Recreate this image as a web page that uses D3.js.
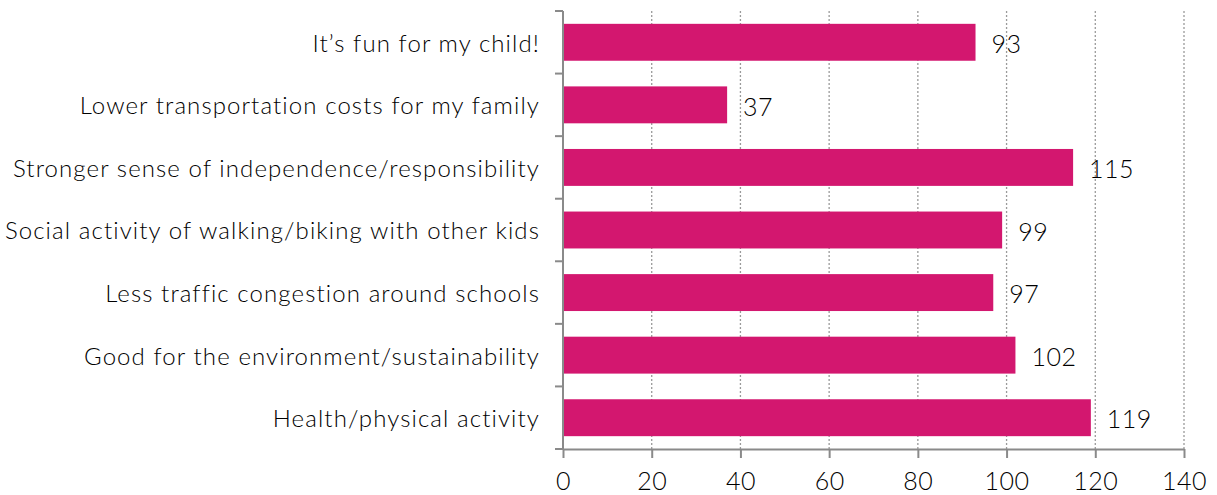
<!DOCTYPE html>
<html><head><meta charset="utf-8">
<script src="https://cdn.jsdelivr.net/npm/d3@7"></script>
<style>body{margin:0;background:#fff}svg{display:block}</style>
</head><body>
<svg id="c" width="1217" height="495"></svg>
<script>
const categories = [
  "It\u2019s fun for my child!",
  "Lower transportation costs for my family",
  "Stronger sense of independence/responsibility",
  "Social activity of walking/biking with other kids",
  "Less traffic congestion around schools",
  "Good for the environment/sustainability",
  "Health/physical activity"
];
const values = [93, 37, 115, 99, 97, 102, 119];
const xTicks = [0, 20, 40, 60, 80, 100, 120, 140];

const svg = d3.select("#c");
const mLeft = 563, mRight = 1184, mTop = 11, mBottom = 449;
const font = "Lato, 'DejaVu Sans', sans-serif";
const x = d3.scaleLinear().domain([0, 140]).range([mLeft, mRight]);
const y = d3.scaleBand().domain(categories).range([mTop, mBottom]).paddingInner(0.41).paddingOuter(0.205);
const yEdges = d3.scaleLinear().domain([0, categories.length]).range([mTop, mBottom]);

// gridlines
svg.append("g").selectAll("line").data(xTicks.filter(d => d > 0)).join("line")
  .attr("x1", d => x(d)).attr("x2", d => x(d)).attr("y1", mTop).attr("y2", mBottom)
  .attr("stroke", "#9a9a9a").attr("stroke-width", 1.3).attr("stroke-dasharray", "2,2");

// bars
svg.append("g").selectAll("rect").data(values).join("rect")
  .attr("x", x(0)).attr("y", (d, i) => y(categories[i]))
  .attr("width", d => x(d) - x(0)).attr("height", y.bandwidth())
  .attr("fill", "#D3176F");

// value labels
svg.append("g").selectAll("text").data(values).join("text")
  .attr("x", d => x(d) + 16).attr("y", (d, i) => y(categories[i]) + y.bandwidth() / 2 + 2)
  .attr("dy", "0.35em").attr("font-family", font).attr("font-size", 25)
  .attr("font-weight", 300).attr("letter-spacing", 0.5).attr("fill", "#000")
  .text(d => d);

// x axis
const xa = svg.append("g").attr("transform", `translate(0,${mBottom})`)
  .call(d3.axisBottom(x).tickValues(xTicks).tickSize(9).tickPadding(14).tickSizeOuter(0));
xa.select(".domain").attr("stroke", "#8a8a8a").attr("stroke-width", 2);
xa.selectAll(".tick line").attr("stroke", "#8a8a8a").attr("stroke-width", 2);
xa.selectAll("text").attr("font-family", font).attr("font-size", 25)
  .attr("font-weight", 300).attr("letter-spacing", 0.5).attr("fill", "#000");

// y axis line and ticks at band edges
svg.append("line").attr("x1", mLeft).attr("x2", mLeft).attr("y1", mTop).attr("y2", mBottom)
  .attr("stroke", "#8a8a8a").attr("stroke-width", 2);
svg.append("g").selectAll("line").data(d3.range(categories.length + 1)).join("line")
  .attr("x1", mLeft - 8).attr("x2", mLeft).attr("y1", d => yEdges(d)).attr("y2", d => yEdges(d))
  .attr("stroke", "#8a8a8a").attr("stroke-width", 2);

// category labels
svg.append("g").selectAll("text").data(categories).join("text")
  .attr("x", 540).attr("y", d => y(d) + y.bandwidth() / 2 + 1)
  .attr("dy", "0.35em").attr("text-anchor", "end")
  .attr("font-family", font).attr("font-size", 24).attr("font-weight", 300)
  .attr("letter-spacing", 1.1).attr("fill", "#000")
  .text(d => d);
</script>
</body></html>
